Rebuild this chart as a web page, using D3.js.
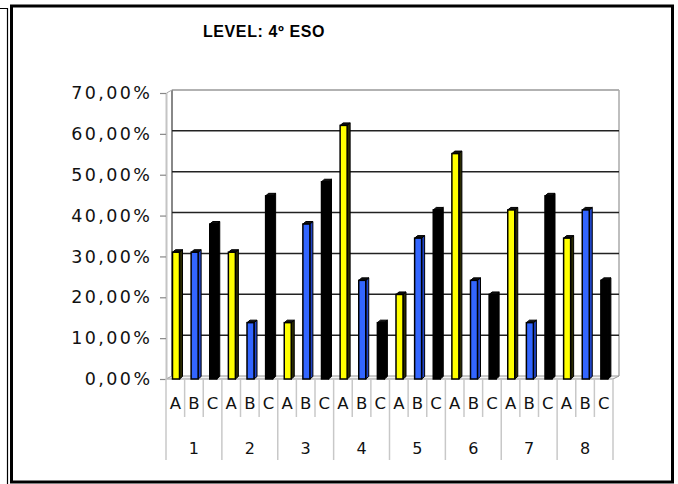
<!DOCTYPE html>
<html><head><meta charset="utf-8">
<script src="https://cdn.jsdelivr.net/npm/d3@7"></script>
<style>html,body{margin:0;padding:0;background:#fff;}svg{display:block;}</style>
</head><body>
<svg id="c" width="678" height="484"></svg>
<script>
const title = "LEVEL: 4º ESO";
const groups = ["1","2","3","4","5","6","7","8"];
const letters = ["A","B","C"];
const seriesA = [31.03, 31.03, 13.79, 62.07, 20.69, 55.17, 41.38, 34.48];
const seriesB = [31.03, 13.79, 37.93, 24.14, 34.48, 24.14, 13.79, 41.38];
const seriesC = [37.93, 44.83, 48.28, 13.79, 41.38, 20.69, 44.83, 24.14];
const yTicks = [0, 10, 20, 30, 40, 50, 60, 70];
const yTickLabels = ["0,00%","10,00%","20,00%","30,00%","40,00%","50,00%","60,00%","70,00%"];

const colors = {A:"#FFFF00", B:"#3366FF", C:"#000000"};
const sideColors = {A:"#2a2a00", B:"#1f44c8", C:"#000000"};

const svg = d3.select("#c");
// frames
svg.append("path").attr("d","M0,8.5 H7.5 V484").attr("fill","none").attr("stroke","#000").attr("stroke-width",1.2);
svg.append("rect").attr("x",11.5).attr("y",6).attr("width",661).attr("height",476)
  .attr("fill","#fff").attr("stroke","#000").attr("stroke-width",3);

svg.append("text").attr("x",264).attr("y",37).attr("text-anchor","middle")
  .attr("font-family","Liberation Sans, Arial, sans-serif").attr("font-weight","bold")
  .attr("font-size",16).attr("letter-spacing",0.6).text(title);

const cats = [];
groups.forEach((g,gi)=>letters.forEach(l=>cats.push({g, l, v: ({A:seriesA,B:seriesB,C:seriesC})[l][gi]})));

const x = d3.scaleBand().domain(d3.range(cats.length)).range([166,613]).padding(0);
const xg = d3.scaleBand().domain(groups).range([166,613]).padding(0);
const y = d3.scaleLinear().domain([0,70]).range([379,93]);
const dx = 6, dy = -3; // 3D depth offset for back wall

// back wall frame
const wallL = 166 + dx, wallR = 613 + dx;
svg.append("line").attr("x1",wallL).attr("x2",wallR).attr("y1",y(70)+dy).attr("y2",y(70)+dy).attr("stroke","#999").attr("stroke-width",1.5);
svg.append("line").attr("x1",wallR).attr("x2",wallR).attr("y1",y(70)+dy).attr("y2",y(0)+dy).attr("stroke","#aaa").attr("stroke-width",1.5);
svg.append("line").attr("x1",wallL).attr("x2",wallL).attr("y1",y(70)+dy).attr("y2",y(0)+dy).attr("stroke","#888").attr("stroke-width",2);
// gridlines
yTicks.filter(t=>t>0 && t<70).forEach(t=>{
  svg.append("line").attr("x1",wallL).attr("x2",wallR).attr("y1",y(t)+dy).attr("y2",y(t)+dy)
    .attr("stroke","#222").attr("stroke-width",1.5);
});
// floor
svg.append("path").attr("d",`M166,${y(0)} L613,${y(0)} L${wallR},${y(0)+dy} L${wallL},${y(0)+dy} Z`)
  .attr("fill","#f4f4f4").attr("stroke","#999").attr("stroke-width",1);
// front left axis line
svg.append("line").attr("x1",166.5).attr("x2",166.5).attr("y1",y(70)).attr("y2",y(0)).attr("stroke","#c4c4c4").attr("stroke-width",2);
svg.append("line").attr("x1",166.5).attr("x2",wallL).attr("y1",y(70)).attr("y2",y(70)+dy).attr("stroke","#aaa").attr("stroke-width",1);

// y axis labels + ticks
const yAxis = d3.axisLeft(y).tickValues(yTicks).tickSize(6).tickPadding(10)
  .tickFormat((d,i)=>yTickLabels[i]);
const ga = svg.append("g").attr("transform","translate(166,0)").call(yAxis);
ga.select(".domain").remove();
ga.selectAll(".tick line").attr("stroke","#888").attr("stroke-width",1.2);
ga.selectAll(".tick text").attr("font-family","DejaVu Sans, sans-serif").attr("font-size",17.5)
  .attr("letter-spacing",2.4).attr("fill","#111").attr("dx",2.4);

// bars
const fw = 7, sd = 3;
cats.forEach((c,i)=>{
  const x0 = x(i) + 6.5, yt = y(c.v), yb = y(0);
  const g = svg.append("g");
  // side face
  g.append("path").attr("d",`M${x0+fw},${yt} L${x0+fw+sd},${yt-2.5} L${x0+fw+sd},${yb-2.5} L${x0+fw},${yb} Z`)
    .attr("fill",sideColors[c.l]).attr("stroke","#000").attr("stroke-width",1);
  // top face
  g.append("path").attr("d",`M${x0},${yt} L${x0+sd},${yt-2.5} L${x0+fw+sd},${yt-2.5} L${x0+fw},${yt} Z`)
    .attr("fill","#111").attr("stroke","#000").attr("stroke-width",1);
  // front face
  g.append("rect").attr("x",x0).attr("y",yt).attr("width",fw).attr("height",yb-yt)
    .attr("fill",colors[c.l]).attr("stroke","#000").attr("stroke-width",1.5);
});

// category separators
d3.range(cats.length+1).forEach(i=>{
  const xx = i < cats.length ? x(i) : x(cats.length-1)+x.bandwidth();
  svg.append("line").attr("x1",xx).attr("x2",xx).attr("y1",379).attr("y2", i%3===0 ? 460 : 417)
    .attr("stroke","#c8c8c8").attr("stroke-width",1.5);
});
// letter labels
cats.forEach((c,i)=>{
  svg.append("text").attr("x",x(i)+x.bandwidth()/2).attr("y",409).attr("text-anchor","middle")
    .attr("font-family","DejaVu Sans, sans-serif").attr("font-size",16.5).attr("fill","#111").text(c.l);
});
// group labels
groups.forEach(g=>{
  svg.append("text").attr("x",xg(g)+xg.bandwidth()/2).attr("y",454).attr("text-anchor","middle")
    .attr("font-family","DejaVu Sans, sans-serif").attr("font-size",16).attr("fill","#111").text(g);
});
</script>
</body></html>
